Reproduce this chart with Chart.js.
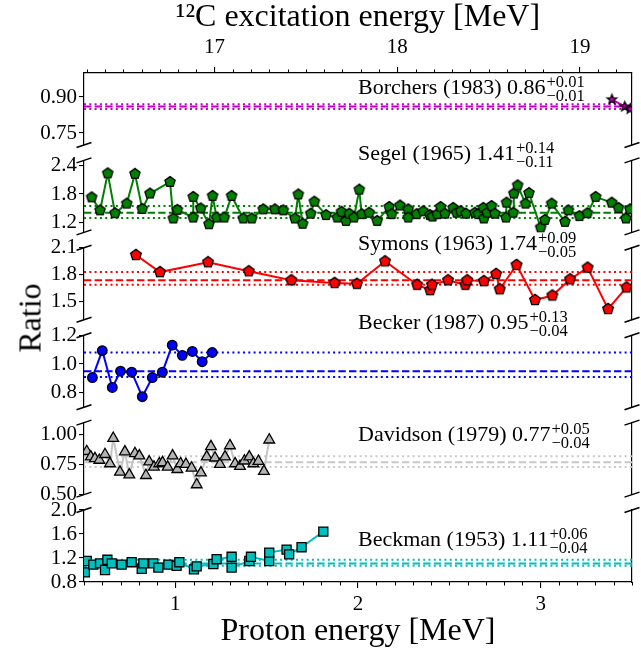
<!DOCTYPE html>
<html><head><meta charset="utf-8">
<script src="https://cdn.jsdelivr.net/npm/chart.js@4"></script>
<style>
html,body{margin:0;padding:0;background:#fff;}
#wrap{position:relative;width:641px;height:655px;overflow:hidden;background:#fff;}
#wrap canvas{position:absolute;left:0;top:0;}
#ylab{position:absolute;font-family:'Liberation Serif',serif;font-size:32px;left:30px;top:318px;transform:translate(-50%,-50%) rotate(-90deg);white-space:nowrap;color:#000;}
</style></head><body>
<div id="wrap">
<canvas id="c0" width="641" height="655"></canvas>
<canvas id="c1" width="641" height="655"></canvas>
<canvas id="c2" width="641" height="655"></canvas>
<canvas id="c3" width="641" height="655"></canvas>
<canvas id="c4" width="641" height="655"></canvas>
<canvas id="c5" width="641" height="655"></canvas>
<div id="ylab">Ratio</div>
</div>
<script>
// ---------------- DATA ----------------
const xRange = [0.5, 3.5];
const bottomTicks = [1, 2, 3];
const bottomTickLabels = ['1', '2', '3'];
const exOffset = 15.785;               // 12C excitation = proton energy + offset (top axis)
const topTicks = [17, 18, 19];
const topTickLabels = ['17', '18', '19'];

const datasetNames = ['Borchers (1983)', 'Segel (1965)', 'Symons (1963)', 'Becker (1987)', 'Davidson (1979)', 'Beckman (1953)'];
const meanValues = [0.86, 1.41, 1.74, 0.95, 0.77, 1.11];
const upErrors   = [0.01, 0.14, 0.09, 0.13, 0.05, 0.06];
const downErrors = [0.01, 0.11, 0.05, 0.04, 0.04, 0.04];

const borchersE = [3.39, 3.46, 3.49];
const borchersR = [0.89, 0.86, 0.85];

const segelE = [0.542,0.588,0.63,0.67,0.734,0.779,0.819,0.861,0.971,0.989,1.011,1.098,1.098,1.139,1.184,1.204,1.226,1.268,1.308,1.372,1.418,1.481,1.545,1.591,1.655,1.673,1.697,1.741,1.761,1.825,1.887,1.91,1.934,1.952,1.978,2.007,2.02,2.061,2.105,2.171,2.184,2.23,2.275,2.275,2.321,2.357,2.394,2.408,2.434,2.452,2.476,2.521,2.54,2.562,2.591,2.64,2.658,2.686,2.689,2.707,2.731,2.749,2.81,2.813,2.85,2.853,2.874,2.917,2.936,3.0,3.023,3.06,3.133,3.152,3.212,3.256,3.301,3.389,3.426,3.467,3.489];
const segelR = [1.73,1.46,2.23,1.40,1.60,2.22,1.49,1.81,2.05,1.29,1.47,1.31,1.74,1.50,1.17,1.76,1.31,1.31,1.76,1.29,1.29,1.48,1.48,1.46,1.29,1.79,1.18,1.39,1.64,1.36,1.31,1.43,1.24,1.39,1.31,1.89,1.38,1.41,1.24,1.53,1.38,1.56,1.48,1.31,1.38,1.44,1.36,1.33,1.38,1.53,1.39,1.51,1.41,1.44,1.39,1.41,1.38,1.51,1.29,1.41,1.55,1.39,1.31,1.62,1.41,1.81,1.98,1.60,1.82,1.10,1.26,1.60,1.22,1.46,1.34,1.40,1.74,1.62,1.51,1.29,1.48];

const symonsE = [0.784,0.916,1.179,1.402,1.635,1.872,1.994,2.148,2.324,2.395,2.405,2.493,2.588,2.598,2.689,2.756,2.776,2.868,2.969,3.064,3.161,3.257,3.369,3.47];
const symonsR = [2.02,1.83,1.94,1.84,1.74,1.71,1.70,1.95,1.69,1.63,1.69,1.74,1.69,1.74,1.73,1.81,1.64,1.91,1.52,1.57,1.75,1.88,1.42,1.66];

const beckerE = [0.546,0.60,0.655,0.70,0.761,0.819,0.874,0.929,0.983,1.038,1.093,1.147,1.202];
const beckerR = [0.906,1.093,0.837,0.95,0.943,0.773,0.906,0.943,1.131,1.06,1.087,1.016,1.08];

const davidsonE = [0.515,0.537,0.56,0.584,0.615,0.642,0.66,0.697,0.724,0.748,0.779,0.803,0.839,0.857,0.883,0.912,0.93,0.958,0.985,1.011,1.029,1.058,1.089,1.117,1.14,1.172,1.195,1.217,1.244,1.272,1.299,1.327,1.354,1.378,1.405,1.427,1.455,1.485,1.514];
const davidsonR = [0.86,0.815,0.80,0.787,0.835,0.758,0.97,0.688,0.857,0.665,0.843,0.823,0.66,0.773,0.73,0.758,0.767,0.73,0.823,0.71,0.758,0.753,0.722,0.583,0.682,0.815,0.90,0.806,0.753,0.815,0.908,0.758,0.736,0.781,0.815,0.758,0.778,0.694,0.956];

const beckmanE = [0.505,0.515,0.551,0.588,0.615,0.628,0.652,0.706,0.761,0.816,0.825,0.879,0.907,0.962,1.007,1.022,1.102,1.117,1.208,1.226,1.308,1.308,1.405,1.414,1.514,1.514,1.609,1.623,1.691,1.81];
const beckmanR = [0.96,1.15,1.09,1.11,1.00,1.17,1.11,1.09,1.13,1.02,1.11,1.11,1.04,1.09,1.07,1.13,1.01,1.06,1.10,1.18,1.22,1.04,1.15,1.22,1.15,1.29,1.34,1.26,1.38,1.64];

const yTicks = [[0.75,0.90],[1.2,1.8,2.4],[1.5,1.8,2.1],[0.8,1.0,1.2],[0.50,0.75,1.00],[0.8,1.2,1.6,2.0]];
const yTickLabels = [['0.75','0.90'],['1.2','1.8','2.4'],['1.5','1.8','2.1'],['0.8','1.0','1.2'],['0.50','0.75','1.00'],['0.8','1.2','1.6','2.0']];
const yLimits = [[0.7,1.0],[1.0,2.5],[1.3,2.1],[0.7,1.2],[0.5,1.1],[0.8,2.0]];

// ---------------- STYLE / LAYOUT ----------------
const FONT = "'Liberation Serif', 'Times New Roman', serif";
const W = 641, H = 655;
const PANEL_TOP0 = 73, PANEL_H = 72, PANEL_STEP = 87.4;
const AX_LEFT = 84, AX_RIGHT = 632;
const labelX = 2.0;
const labelYs = [0.912, 2.50, 2.078, 1.243, 0.95, 1.40];

function polyMarker(n, r, inner, fill, lw) {
  const s = Math.ceil(2 * r + 2 * lw + 2);
  const c = document.createElement('canvas');
  c.width = c.height = s;
  const g = c.getContext('2d');
  g.beginPath();
  const pts = inner ? 2 * n : n;
  for (let i = 0; i < pts; i++) {
    const a = -Math.PI / 2 + i * 2 * Math.PI / pts;
    const rr = inner && (i % 2) ? r * inner : r;
    const px = s / 2 + rr * Math.cos(a), py = s / 2 + rr * Math.sin(a);
    if (i === 0) g.moveTo(px, py); else g.lineTo(px, py);
  }
  g.closePath();
  g.fillStyle = fill; g.fill();
  g.lineWidth = lw; g.strokeStyle = '#000'; g.lineJoin = 'miter'; g.stroke();
  return c;
}

const series = [
  {E: borchersE, R: borchersR, line: '#bf00bf', meanColor: '#bf00bf', style: polyMarker(5, 5, 0.42, '#bf00bf', 1.3), radius: 5, fill: '#bf00bf'},
  {E: segelE, R: segelR, line: '#008000', meanColor: '#008000', style: polyMarker(5, 5.4, 0, '#008000', 1.3), radius: 5, fill: '#008000'},
  {E: symonsE, R: symonsR, line: '#ff0000', meanColor: '#ff0000', style: polyMarker(5, 5.6, 0, '#ff0000', 1.3), radius: 5, fill: '#ff0000'},
  {E: beckerE, R: beckerR, line: '#0000ff', meanColor: '#0000ff', style: 'circle', radius: 4.8, fill: '#0000ff'},
  {E: davidsonE, R: davidsonR, line: '#c4c4c4', meanColor: '#c8c8c8', style: 'triangle', radius: 6.2, fill: '#b4b4b4'},
  {E: beckmanE, R: beckmanR, line: '#00bfbf', meanColor: '#00bfbf', style: 'rect', radius: 6.4, fill: '#00bfbf'}
];

const minorBottom = [];
for (let k = 5; k <= 35; k++) if (k % 10 !== 0) minorBottom.push(k / 10);
const minorTop = [];
for (let k = 163; k <= 192; k++) if (k % 10 !== 0) minorTop.push(k / 10);

function hline(v, color, dash) {
  return {data: [{x: xRange[0], y: v}, {x: xRange[1], y: v}], showLine: true, borderColor: color,
          borderWidth: 2, borderDash: dash, pointRadius: 0, xAxisID: 'x', yAxisID: 'y'};
}

function decoPlugin(idx) {
  return {
    id: 'deco' + idx,
    afterDraw(chart) {
      const ctx = chart.ctx, a = chart.chartArea, sx = chart.scales.x, sy = chart.scales.y;
      ctx.save();
      ctx.strokeStyle = '#000';
      ctx.lineWidth = 1.5;
      const brk = (x, y) => { ctx.beginPath(); ctx.moveTo(x - 7.5, y + 2.5); ctx.lineTo(x + 7.5, y - 2.5); ctx.stroke(); };
      if (idx > 0) { brk(a.left, a.top); brk(a.right, a.top); }
      if (idx < 5) { brk(a.left, a.bottom); brk(a.right, a.bottom); }
      ctx.lineWidth = 1;
      if (idx === 5) {
        for (const v of minorBottom) {
          const px = Math.round(sx.getPixelForValue(v)) + 0.5;
          ctx.beginPath(); ctx.moveTo(px, a.bottom); ctx.lineTo(px, a.bottom + 3.5); ctx.stroke();
        }
      }
      if (idx === 0) {
        const st = chart.scales.xTop;
        for (const v of minorTop) {
          const px = Math.round(st.getPixelForValue(v)) + 0.5;
          ctx.beginPath(); ctx.moveTo(px, a.top); ctx.lineTo(px, a.top - 3.5); ctx.stroke();
        }
      }
      const tx = sx.getPixelForValue(labelX), ty = sy.getPixelForValue(labelYs[idx]);
      ctx.fillStyle = '#000'; ctx.textBaseline = 'alphabetic'; ctx.textAlign = 'left';
      ctx.font = '22px ' + FONT;
      const main = datasetNames[idx] + ' ' + meanValues[idx].toFixed(2);
      ctx.fillText(main, tx, ty);
      const w = ctx.measureText(main).width;
      ctx.font = '16.5px ' + FONT;
      ctx.fillText('+' + upErrors[idx].toFixed(2), tx + w + 1, ty - 7);
      ctx.fillText('\u2212' + downErrors[idx].toFixed(2), tx + w + 1, ty + 7);
      ctx.restore();
    }
  };
}

function makeChart(idx) {
  const s = series[idx];
  const top = PANEL_TOP0 + idx * PANEL_STEP;
  const bottom = top + PANEL_H;
  const isTop = idx === 0, isBottom = idx === 5;
  const m = meanValues[idx];
  const datasets = [
    {data: s.E.map((e, i) => ({x: e, y: s.R[i]})), showLine: true, borderColor: s.line, borderWidth: 2,
     pointStyle: s.style, pointRadius: s.radius, pointBackgroundColor: s.fill, pointBorderColor: '#000',
     pointBorderWidth: 1.3, xAxisID: 'x', yAxisID: 'y'},
    hline(m, s.meanColor, [7.4, 3.2]),
    hline(m + upErrors[idx], s.meanColor, [2, 3.3]),
    hline(m - downErrors[idx], s.meanColor, [2, 3.3])
  ];
  const tickFont = {family: FONT, size: 21};
  const scales = {
    x: {
      type: 'linear', position: 'bottom', min: xRange[0], max: xRange[1], display: isBottom,
      afterBuildTicks: sc => { sc.ticks = bottomTicks.map(v => ({value: v})); },
      afterFit: sc => { sc.height = isBottom ? H - (PANEL_TOP0 + 5 * PANEL_STEP + PANEL_H) : 0; },
      grid: {drawOnChartArea: false, drawTicks: true, tickLength: 6, color: '#000', lineWidth: 1.1},
      border: {display: true, color: '#000', width: 1.2},
      ticks: {font: tickFont, color: '#000', padding: 4, maxRotation: 0, autoSkip: false,
              callback: (v, i) => bottomTickLabels[i]},
      title: {display: true, text: 'Proton energy [MeV]', font: {family: FONT, size: 32, lineHeight: 1.2}, color: '#000', padding: {top: 0, bottom: 4}}
    },
    y: {
      type: 'linear', position: 'left', min: yLimits[idx][0], max: yLimits[idx][1],
      afterBuildTicks: sc => { sc.ticks = yTicks[idx].map(v => ({value: v})); },
      afterFit: sc => { sc.width = AX_LEFT; },
      grid: {drawOnChartArea: false, drawTicks: true, tickLength: 5, color: '#000', lineWidth: 1.1},
      border: {display: true, color: '#000', width: 1.2},
      ticks: {font: tickFont, color: '#000', padding: 2, autoSkip: false, callback: (v, i) => yTickLabels[idx][i]}
    },
    yR: {
      type: 'linear', position: 'right', min: 0, max: 1,
      afterFit: sc => { sc.width = W - AX_RIGHT; },
      grid: {display: false}, ticks: {display: false},
      border: {display: true, color: '#000', width: 1.2}
    }
  };
  if (isTop) {
    scales.xTop = {
      type: 'linear', position: 'top', min: xRange[0] + exOffset, max: xRange[1] + exOffset,
      afterBuildTicks: sc => { sc.ticks = topTicks.map(v => ({value: v})); },
      afterFit: sc => { sc.height = PANEL_TOP0; },
      grid: {drawOnChartArea: false, drawTicks: true, tickLength: 6, color: '#000', lineWidth: 1.1},
      border: {display: true, color: '#000', width: 1.2},
      ticks: {font: tickFont, color: '#000', padding: 7, maxRotation: 0, autoSkip: false, callback: (v, i) => topTickLabels[i]},
      title: {display: true, text: '\u00B9\u00B2C excitation energy [MeV]', font: {family: FONT, size: 32, lineHeight: 1.1}, color: '#000', padding: {top: 0, bottom: 0}}
    };
  }
  return new Chart(document.getElementById('c' + idx), {
    type: 'scatter',
    data: {datasets},
    options: {
      responsive: false, maintainAspectRatio: false, animation: false, devicePixelRatio: 1, events: [],
      layout: {autoPadding: false, padding: {left: 0, right: 0, top: isTop ? 0 : top, bottom: isBottom ? 0 : H - bottom}},
      plugins: {legend: {display: false}, tooltip: {enabled: false}, title: {display: false}},
      scales
    },
    plugins: [decoPlugin(idx)]
  });
}

Chart.defaults.font.family = FONT;
for (let i = 0; i < 6; i++) makeChart(i);
</script>
</body></html>
